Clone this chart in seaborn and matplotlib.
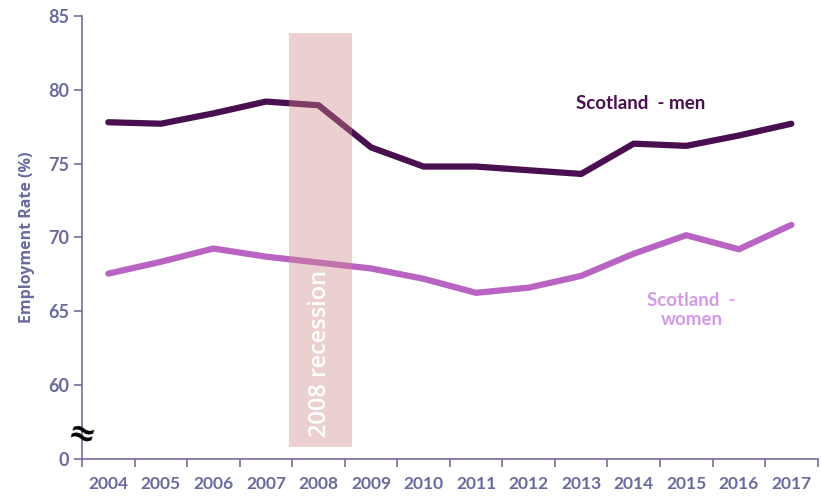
import matplotlib
matplotlib.use("Agg")
import matplotlib.pyplot as plt
import seaborn as sns
import pandas as pd

years = [2004, 2005, 2006, 2007, 2008, 2009, 2010, 2011, 2012, 2013, 2014, 2015, 2016, 2017]
men = [77.8, 77.7, 78.4, 79.2, 78.95, 76.1, 74.8, 74.8, 74.55, 74.3, 76.35, 76.2, 76.9, 77.7]
women = [67.55, 68.35, 69.25, 68.7, 68.3, 67.9, 67.2, 66.25, 66.6, 67.4, 68.9, 70.15, 69.2, 70.85]
y_ticks = [55, 60, 65, 70, 75, 80, 85]
y_tick_labels = ["0", "60", "65", "70", "75", "80", "85"]

sns.set_style("white")
plt.rcParams['font.family'] = ['Lato', 'DejaVu Sans']

df = pd.DataFrame({"pos": list(range(len(years))) * 2,
                   "rate": men + women,
                   "group": ["men"] * len(years) + ["women"] * len(years)})

fig = plt.figure(figsize=(8.21, 4.97), dpi=100)
ax = fig.add_axes([0.0999, 0.0765, 0.896, 0.8915])

sns.lineplot(data=df, x="pos", y="rate", hue="group",
             palette={"men": "#4a0f50", "women": "#b964c3"},
             linewidth=4.5, legend=False, ax=ax)

# recession band (drawn over the lines, semi transparent)
ax.fill_between([3.44, 4.63], 55.8, 83.85, color=(206/255, 134/255, 134/255),
                alpha=0.39, linewidth=0, zorder=5)
ax.text(4.03, 56.5, "2008 recession", rotation=90, color="white", fontweight="semibold",
        fontsize=17, ha="center", va="bottom", zorder=6, family=['Open Sans', 'DejaVu Sans'])

ax.set_xlim(-0.5, len(years) - 0.5)
ax.set_ylim(55, 85)

axis_col = "#7a6a9a"
label_col = "#6a6a9e"
for s in ["top", "right"]:
    ax.spines[s].set_visible(False)
for s in ["left", "bottom"]:
    ax.spines[s].set_color(axis_col)
    ax.spines[s].set_linewidth(1.2)

ax.set_yticks(y_ticks)
ax.set_yticklabels(y_tick_labels)
ax.set_xticks([i - 0.5 for i in range(len(years) + 1)])
ax.set_xticklabels([])
for i, yr in enumerate(years):
    ax.text(i, 53.3, str(yr), ha="center", va="center", fontsize=12.5,
            fontweight="bold", color=label_col)
ax.tick_params(axis="both", direction="out", length=6, width=1.2, color=axis_col,
               labelcolor=label_col, labelsize=13, left=True, bottom=True)
for lbl in ax.get_yticklabels():
    lbl.set_fontweight("bold")

ax.set_ylabel("Employment Rate (%)", fontsize=11.5, fontweight="bold", color=label_col,
              labelpad=9, family=['Open Sans', 'DejaVu Sans'])
ax.set_xlabel("")

# axis break mark
ax.text(-0.5, 56.6, "≈", ha="center", va="center", fontsize=24, fontweight="bold",
        rotation=-15, color="black", clip_on=False, zorder=7, family=['DejaVu Sans'])

ax.text(10.13, 79.1, "Scotland  - men", color="#4a0f50", fontsize=13.5,
        fontweight="bold", ha="center", va="center")
ax.text(11.1, 65.1, "Scotland  -\nwomen", color="#d49ae8", fontsize=13.5,
        fontweight="bold", ha="center", va="center", linespacing=1.1)

fig.savefig("out.png", dpi=100)
